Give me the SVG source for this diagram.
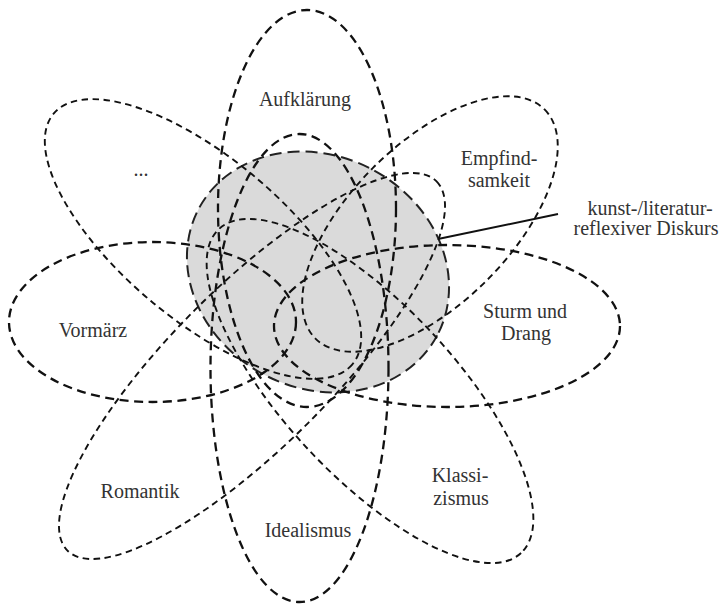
<svg xmlns="http://www.w3.org/2000/svg" width="721" height="608" viewBox="0 0 721 608">
<style>
.core{fill:#dadada;stroke:#222;stroke-width:2;stroke-dasharray:12 6}
.pb{fill:none;stroke:#111;stroke-width:2.3;stroke-dasharray:9 5.5}
.pt{fill:none;stroke:#111;stroke-width:1.9;stroke-dasharray:6.5 4.5}
.lbl{font-family:"Liberation Serif","Times New Roman",serif;font-size:20px;fill:#333;text-anchor:middle}
.lead{stroke:#111;stroke-width:2;fill:none}
</style>
<rect width="721" height="608" fill="#fff"/>
<g id="core">
<ellipse class="core" cx="318" cy="272" rx="135" ry="116" transform="rotate(28 318 272)"/>
</g>
<g id="aufklaerung">
<ellipse class="pb" cx="307" cy="208.5" rx="89" ry="198.5"/>
<text class="lbl" x="305" y="106">Aufklärung</text>
</g>
<g id="idealismus">
<ellipse class="pb" cx="299.5" cy="368" rx="89" ry="234"/>
<text class="lbl" x="308" y="537">Idealismus</text>
</g>
<g id="vormaerz">
<ellipse class="pb" cx="152.5" cy="322" rx="143.5" ry="80"/>
<text class="lbl" x="93" y="337">Vormärz</text>
</g>
<g id="sturm">
<ellipse class="pb" cx="447" cy="326" rx="173" ry="81"/>
<text class="lbl" x="525" y="318">Sturm und</text>
<text class="lbl" x="526" y="340">Drang</text>
</g>
<g id="etc">
<ellipse class="pt" cx="203" cy="239" rx="195" ry="81" transform="rotate(40 203 239)"/>
<text class="lbl" x="141" y="176">...</text>
</g>
<g id="empfindsamkeit">
<ellipse class="pt" cx="430" cy="224" rx="162" ry="80" transform="rotate(-45 430 224)"/>
<text class="lbl" x="499" y="165">Empfind-</text>
<text class="lbl" x="499" y="187">samkeit</text>
</g>
<g id="romantik">
<ellipse class="pt" cx="252" cy="366" rx="261" ry="80" transform="rotate(-45 252 366)"/>
<text class="lbl" x="140" y="498">Romantik</text>
</g>
<g id="klassizismus">
<ellipse class="pt" cx="370" cy="391" rx="221.5" ry="85" transform="rotate(47 370 391)"/>
<text class="lbl" x="460" y="482">Klassi-</text>
<text class="lbl" x="461" y="505">zismus</text>
</g>
<g id="connectors">
<line class="lead" x1="438" y1="239" x2="558" y2="214"/>
</g>
<g id="diskurs-label">
<text class="lbl" x="650" y="215">kunst-/literatur-</text>
<text class="lbl" x="646" y="235">reflexiver Diskurs</text>
</g>
</svg>
